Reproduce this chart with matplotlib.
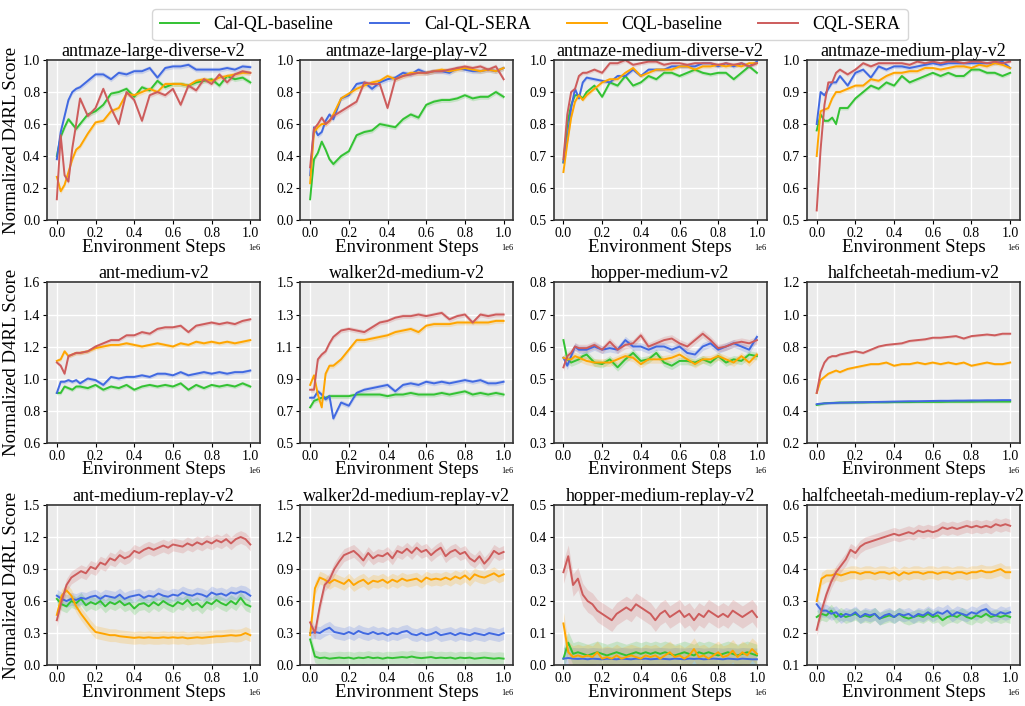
import matplotlib
matplotlib.use('Agg')
import matplotlib.pyplot as plt
import numpy as np

plt.rcParams['font.family'] = ['Liberation Serif', 'DejaVu Serif']

# x grids (fraction of 1e6 environment steps)
x_top = [0, .02, .04, .06, .08, .10, .12, .16, .20, .24, .28, .32, .36, .40, .44,
         .48, .52, .56, .60, .64, .68, .72, .76, .80, .84, .88, .92, .96, 1.0]
x_bot = [i * 0.025 for i in range(41)]

labels = ['Cal-QL-baseline', 'Cal-QL-SERA', 'CQL-baseline', 'CQL-SERA']
colors = ['#33c233', '#4169e1', '#ffa500', '#cd5c5c']

titles = ['antmaze-large-diverse-v2', 'antmaze-large-play-v2', 'antmaze-medium-diverse-v2', 'antmaze-medium-play-v2',
          'ant-medium-v2', 'walker2d-medium-v2', 'hopper-medium-v2', 'halfcheetah-medium-v2',
          'ant-medium-replay-v2', 'walker2d-medium-replay-v2', 'hopper-medium-replay-v2', 'halfcheetah-medium-replay-v2']

# ---- row 1 ----
lgd_green = [0.40, 0.52, 0.58, 0.63, 0.60, 0.57, 0.60, 0.66, 0.68, 0.72, 0.79, 0.80, 0.82, 0.77, 0.83, 0.81, 0.87, 0.83, 0.85, 0.85, 0.84, 0.86, 0.87, 0.88, 0.84, 0.90, 0.88, 0.89, 0.86]
lgd_blue = [0.38, 0.55, 0.65, 0.75, 0.80, 0.82, 0.83, 0.87, 0.91, 0.91, 0.88, 0.92, 0.91, 0.93, 0.93, 0.95, 0.89, 0.95, 0.96, 0.96, 0.97, 0.94, 0.94, 0.94, 0.94, 0.95, 0.94, 0.96, 0.955]
lgd_orange = [0.27, 0.18, 0.22, 0.30, 0.38, 0.44, 0.46, 0.54, 0.61, 0.62, 0.68, 0.70, 0.79, 0.78, 0.80, 0.82, 0.80, 0.85, 0.85, 0.85, 0.84, 0.87, 0.88, 0.87, 0.89, 0.90, 0.91, 0.92, 0.92]
lgd_red = [0.13, 0.53, 0.28, 0.24, 0.45, 0.60, 0.76, 0.65, 0.70, 0.82, 0.70, 0.60, 0.80, 0.75, 0.62, 0.78, 0.80, 0.78, 0.82, 0.72, 0.84, 0.81, 0.88, 0.85, 0.91, 0.86, 0.91, 0.93, 0.92]

lgp_green = [0.13, 0.38, 0.42, 0.49, 0.44, 0.38, 0.35, 0.40, 0.43, 0.53, 0.55, 0.56, 0.60, 0.59, 0.58, 0.63, 0.66, 0.64, 0.72, 0.74, 0.75, 0.75, 0.76, 0.78, 0.76, 0.77, 0.77, 0.80, 0.77]
lgp_blue = [0.28, 0.58, 0.53, 0.55, 0.62, 0.66, 0.63, 0.76, 0.78, 0.85, 0.86, 0.82, 0.86, 0.88, 0.89, 0.92, 0.91, 0.94, 0.92, 0.93, 0.93, 0.92, 0.95, 0.94, 0.93, 0.93, 0.94, 0.93, 0.95]
lgp_orange = [0.23, 0.55, 0.58, 0.60, 0.60, 0.62, 0.66, 0.76, 0.79, 0.82, 0.84, 0.86, 0.87, 0.90, 0.88, 0.90, 0.92, 0.92, 0.92, 0.93, 0.94, 0.93, 0.94, 0.95, 0.94, 0.93, 0.94, 0.93, 0.95]
lgp_red = [0.33, 0.57, 0.60, 0.64, 0.60, 0.62, 0.65, 0.68, 0.71, 0.74, 0.86, 0.85, 0.85, 0.70, 0.88, 0.90, 0.91, 0.92, 0.92, 0.93, 0.93, 0.94, 0.95, 0.96, 0.95, 0.96, 0.94, 0.96, 0.88]

md_green = [0.68, 0.80, 0.86, 0.89, 0.89, 0.88, 0.90, 0.92, 0.885, 0.93, 0.92, 0.95, 0.92, 0.93, 0.95, 0.94, 0.96, 0.96, 0.95, 0.96, 0.97, 0.96, 0.955, 0.96, 0.96, 0.94, 0.96, 0.98, 0.96]
md_blue = [0.68, 0.75, 0.85, 0.91, 0.88, 0.93, 0.945, 0.94, 0.935, 0.93, 0.95, 0.95, 0.97, 0.95, 0.97, 0.97, 0.97, 0.98, 0.98, 0.98, 0.98, 0.99, 0.99, 0.98, 0.99, 0.98, 0.99, 0.98, 0.995]
md_orange = [0.65, 0.74, 0.82, 0.87, 0.89, 0.875, 0.89, 0.91, 0.93, 0.94, 0.94, 0.96, 0.975, 0.95, 0.96, 0.97, 0.97, 0.97, 0.98, 0.98, 0.97, 0.98, 0.98, 0.985, 0.98, 0.985, 0.98, 0.99, 0.99]
md_red = [0.69, 0.83, 0.90, 0.91, 0.95, 0.96, 0.96, 0.97, 0.96, 0.99, 0.99, 1.00, 0.985, 0.99, 0.995, 0.995, 0.985, 0.99, 0.99, 0.985, 0.99, 0.99, 0.99, 0.985, 0.99, 0.985, 0.99, 0.98, 0.99]

mp_green = [0.78, 0.83, 0.81, 0.81, 0.82, 0.80, 0.85, 0.85, 0.88, 0.90, 0.92, 0.91, 0.93, 0.92, 0.95, 0.93, 0.94, 0.95, 0.96, 0.95, 0.96, 0.95, 0.95, 0.97, 0.97, 0.96, 0.96, 0.95, 0.96]
mp_blue = [0.80, 0.90, 0.89, 0.91, 0.93, 0.93, 0.95, 0.92, 0.96, 0.97, 0.945, 0.98, 0.97, 0.98, 0.98, 0.975, 0.98, 0.985, 0.99, 0.985, 0.99, 0.99, 0.99, 0.99, 0.99, 0.99, 0.99, 0.995, 0.975]
mp_orange = [0.70, 0.84, 0.845, 0.85, 0.88, 0.90, 0.90, 0.91, 0.92, 0.92, 0.94, 0.935, 0.95, 0.96, 0.96, 0.965, 0.965, 0.975, 0.975, 0.97, 0.975, 0.98, 0.98, 0.975, 0.985, 0.98, 0.99, 0.985, 0.975]
mp_red = [0.53, 0.72, 0.86, 0.93, 0.93, 0.96, 0.97, 0.955, 0.97, 0.99, 0.98, 0.99, 0.99, 0.99, 0.99, 0.985, 0.995, 0.99, 0.995, 0.99, 0.995, 0.995, 0.99, 0.995, 0.995, 0.99, 0.995, 0.99, 0.995]

# ---- row 2 ----
am_green = [0.91, 0.91, 0.95, 0.94, 0.93, 0.95, 0.95, 0.94, 0.96, 0.93, 0.95, 0.94, 0.96, 0.93, 0.95, 0.96, 0.95, 0.96, 0.95, 0.97, 0.93, 0.96, 0.94, 0.96, 0.95, 0.96, 0.95, 0.97, 0.95]
am_blue = [0.91, 0.98, 0.98, 0.99, 0.98, 0.99, 0.97, 1.00, 0.99, 0.96, 1.01, 1.00, 1.01, 1.01, 1.02, 1.01, 1.03, 1.03, 1.02, 1.04, 1.02, 1.03, 1.04, 1.03, 1.04, 1.03, 1.04, 1.04, 1.05]
am_orange = [1.11, 1.12, 1.17, 1.14, 1.15, 1.16, 1.16, 1.17, 1.19, 1.20, 1.21, 1.21, 1.22, 1.21, 1.20, 1.21, 1.22, 1.21, 1.20, 1.22, 1.21, 1.23, 1.22, 1.23, 1.22, 1.23, 1.22, 1.23, 1.24]
am_red = [1.10, 1.08, 1.03, 1.14, 1.15, 1.16, 1.16, 1.17, 1.20, 1.22, 1.24, 1.24, 1.27, 1.27, 1.29, 1.28, 1.31, 1.32, 1.32, 1.33, 1.29, 1.33, 1.34, 1.35, 1.34, 1.35, 1.34, 1.36, 1.37]

wm_green = [0.72, 0.76, 0.77, 0.78, 0.78, 0.79, 0.79, 0.79, 0.79, 0.80, 0.80, 0.80, 0.80, 0.79, 0.80, 0.80, 0.81, 0.80, 0.80, 0.80, 0.81, 0.80, 0.81, 0.82, 0.80, 0.81, 0.80, 0.81, 0.80]
wm_blue = [0.78, 0.78, 0.82, 0.80, 0.77, 0.79, 0.65, 0.75, 0.73, 0.81, 0.83, 0.84, 0.85, 0.86, 0.82, 0.86, 0.87, 0.86, 0.88, 0.87, 0.88, 0.87, 0.88, 0.89, 0.88, 0.89, 0.87, 0.87, 0.88]
wm_orange = [0.86, 0.92, 0.80, 0.72, 0.93, 0.98, 0.98, 1.02, 1.08, 1.14, 1.14, 1.15, 1.16, 1.17, 1.19, 1.20, 1.21, 1.19, 1.23, 1.24, 1.24, 1.24, 1.25, 1.25, 1.25, 1.25, 1.25, 1.26, 1.26]
wm_red = [0.83, 0.83, 1.02, 1.05, 1.07, 1.12, 1.16, 1.20, 1.21, 1.20, 1.19, 1.22, 1.25, 1.26, 1.28, 1.29, 1.29, 1.30, 1.29, 1.30, 1.31, 1.27, 1.29, 1.30, 1.25, 1.30, 1.29, 1.30, 1.30]

hm_green = [0.62, 0.56, 0.55, 0.555, 0.56, 0.57, 0.575, 0.55, 0.545, 0.56, 0.535, 0.56, 0.58, 0.555, 0.56, 0.58, 0.55, 0.54, 0.555, 0.555, 0.55, 0.56, 0.55, 0.57, 0.55, 0.56, 0.555, 0.575, 0.57]
hm_blue = [0.565, 0.54, 0.57, 0.60, 0.59, 0.59, 0.59, 0.60, 0.59, 0.595, 0.59, 0.62, 0.60, 0.60, 0.59, 0.60, 0.60, 0.59, 0.60, 0.58, 0.575, 0.60, 0.61, 0.59, 0.60, 0.61, 0.60, 0.59, 0.63]
hm_orange = [0.565, 0.56, 0.56, 0.57, 0.565, 0.56, 0.555, 0.55, 0.55, 0.55, 0.56, 0.57, 0.565, 0.545, 0.56, 0.56, 0.56, 0.565, 0.575, 0.56, 0.545, 0.56, 0.56, 0.57, 0.56, 0.55, 0.57, 0.55, 0.575]
hm_red = [0.535, 0.57, 0.58, 0.60, 0.595, 0.595, 0.595, 0.605, 0.59, 0.615, 0.59, 0.605, 0.61, 0.635, 0.60, 0.61, 0.62, 0.625, 0.61, 0.60, 0.62, 0.64, 0.62, 0.595, 0.60, 0.61, 0.615, 0.61, 0.62]

cm_green = [0.435, 0.44, 0.445, 0.447, 0.448, 0.449, 0.45, 0.45, 0.451, 0.451, 0.452, 0.452, 0.452, 0.453, 0.453, 0.453, 0.454, 0.454, 0.454, 0.454, 0.455, 0.455, 0.455, 0.455, 0.456, 0.456, 0.456, 0.456, 0.456]
cm_blue = [0.44, 0.443, 0.445, 0.446, 0.447, 0.448, 0.449, 0.45, 0.451, 0.452, 0.453, 0.454, 0.455, 0.456, 0.457, 0.458, 0.458, 0.459, 0.46, 0.461, 0.461, 0.462, 0.462, 0.463, 0.463, 0.464, 0.464, 0.465, 0.465]
cm_orange = [0.51, 0.59, 0.61, 0.63, 0.64, 0.65, 0.64, 0.66, 0.67, 0.68, 0.69, 0.69, 0.70, 0.68, 0.69, 0.69, 0.70, 0.69, 0.70, 0.69, 0.70, 0.69, 0.70, 0.68, 0.69, 0.70, 0.69, 0.69, 0.70]
cm_red = [0.51, 0.64, 0.70, 0.73, 0.74, 0.74, 0.75, 0.76, 0.77, 0.76, 0.78, 0.80, 0.81, 0.815, 0.82, 0.835, 0.84, 0.845, 0.855, 0.855, 0.86, 0.865, 0.85, 0.865, 0.87, 0.875, 0.87, 0.88, 0.88]

# ---- row 3 ----
amr_green = [0.62, 0.57, 0.55, 0.60, 0.58, 0.62, 0.56, 0.59, 0.57, 0.60, 0.55, 0.59, 0.57, 0.60, 0.56, 0.58, 0.53, 0.57, 0.58, 0.55, 0.59, 0.56, 0.60, 0.57, 0.55, 0.59, 0.57, 0.61, 0.56, 0.58, 0.54, 0.59, 0.57, 0.61, 0.58, 0.56, 0.60, 0.57, 0.63, 0.57, 0.55]
amr_blue = [0.65, 0.62, 0.60, 0.62, 0.61, 0.63, 0.62, 0.64, 0.65, 0.62, 0.65, 0.64, 0.63, 0.66, 0.62, 0.64, 0.65, 0.66, 0.63, 0.65, 0.64, 0.67, 0.65, 0.64, 0.66, 0.65, 0.68, 0.66, 0.65, 0.67, 0.66, 0.64, 0.68, 0.66, 0.67, 0.65, 0.68, 0.67, 0.69, 0.68, 0.65]
amr_orange = [0.47, 0.65, 0.70, 0.65, 0.55, 0.48, 0.42, 0.36, 0.31, 0.30, 0.29, 0.28, 0.28, 0.27, 0.265, 0.26, 0.255, 0.26, 0.255, 0.26, 0.255, 0.255, 0.26, 0.255, 0.26, 0.255, 0.26, 0.25, 0.255, 0.26, 0.255, 0.26, 0.265, 0.27, 0.27, 0.275, 0.28, 0.275, 0.28, 0.30, 0.28]
amr_red = [0.42, 0.60, 0.75, 0.82, 0.85, 0.88, 0.86, 0.92, 0.90, 0.96, 0.94, 1.00, 0.98, 1.03, 1.00, 1.02, 1.07, 1.05, 1.08, 1.10, 1.08, 1.10, 1.12, 1.10, 1.13, 1.12, 1.11, 1.14, 1.12, 1.15, 1.13, 1.16, 1.14, 1.17, 1.15, 1.18, 1.14, 1.18, 1.20, 1.18, 1.13]

wmr_green = [0.24, 0.08, 0.065, 0.07, 0.06, 0.065, 0.07, 0.065, 0.07, 0.06, 0.07, 0.065, 0.075, 0.065, 0.07, 0.06, 0.07, 0.065, 0.07, 0.075, 0.07, 0.08, 0.07, 0.065, 0.07, 0.075, 0.065, 0.07, 0.065, 0.07, 0.06, 0.07, 0.065, 0.07, 0.06, 0.065, 0.07, 0.065, 0.06, 0.065, 0.06]
wmr_blue = [0.30, 0.31, 0.30, 0.33, 0.35, 0.31, 0.30, 0.29, 0.31, 0.29, 0.32, 0.30, 0.29, 0.31, 0.29, 0.30, 0.28, 0.30, 0.29, 0.31, 0.32, 0.29, 0.28, 0.30, 0.28, 0.29, 0.31, 0.28, 0.29, 0.30, 0.28, 0.30, 0.29, 0.28, 0.30, 0.29, 0.28, 0.30, 0.29, 0.28, 0.30]
wmr_orange = [0.28, 0.72, 0.82, 0.80, 0.77, 0.80, 0.78, 0.76, 0.80, 0.75, 0.78, 0.80, 0.76, 0.79, 0.78, 0.80, 0.77, 0.80, 0.78, 0.81, 0.79, 0.80, 0.81, 0.78, 0.82, 0.80, 0.81, 0.80, 0.82, 0.80, 0.83, 0.81, 0.84, 0.80, 0.85, 0.83, 0.82, 0.84, 0.86, 0.83, 0.85]
wmr_red = [0.40, 0.30, 0.55, 0.75, 0.80, 0.90, 0.97, 1.03, 1.05, 1.07, 1.03, 0.98, 1.05, 1.00, 1.03, 1.02, 1.05, 1.00, 1.07, 1.05, 1.09, 1.05, 1.10, 1.06, 1.08, 1.03, 1.07, 1.10, 1.02, 1.06, 1.08, 1.04, 1.06, 1.00, 0.97, 1.02, 0.95, 1.00, 1.07, 1.04, 1.06]

hmr_green = [0.02, 0.07, 0.035, 0.04, 0.035, 0.03, 0.035, 0.04, 0.035, 0.03, 0.035, 0.04, 0.035, 0.03, 0.035, 0.04, 0.035, 0.04, 0.035, 0.04, 0.035, 0.04, 0.035, 0.03, 0.035, 0.04, 0.035, 0.03, 0.04, 0.035, 0.04, 0.035, 0.03, 0.035, 0.04, 0.035, 0.03, 0.035, 0.04, 0.035, 0.03]
hmr_blue = [0.02, 0.022, 0.02, 0.019, 0.02, 0.018, 0.02, 0.019, 0.018, 0.02, 0.019, 0.018, 0.02, 0.019, 0.018, 0.02, 0.019, 0.02, 0.018, 0.019, 0.02, 0.019, 0.018, 0.02, 0.019, 0.018, 0.02, 0.019, 0.02, 0.018, 0.019, 0.02, 0.019, 0.018, 0.02, 0.019, 0.018, 0.02, 0.019, 0.018, 0.018]
hmr_orange = [0.13, 0.04, 0.025, 0.03, 0.025, 0.03, 0.025, 0.04, 0.02, 0.025, 0.02, 0.03, 0.02, 0.025, 0.03, 0.025, 0.02, 0.03, 0.025, 0.03, 0.02, 0.03, 0.04, 0.025, 0.03, 0.02, 0.03, 0.05, 0.025, 0.03, 0.02, 0.03, 0.04, 0.025, 0.03, 0.045, 0.025, 0.04, 0.03, 0.05, 0.035]
hmr_red = [0.29, 0.34, 0.25, 0.27, 0.22, 0.20, 0.19, 0.17, 0.16, 0.15, 0.14, 0.16, 0.17, 0.18, 0.17, 0.19, 0.18, 0.17, 0.16, 0.14, 0.16, 0.17, 0.15, 0.16, 0.17, 0.15, 0.16, 0.14, 0.16, 0.15, 0.17, 0.16, 0.15, 0.16, 0.15, 0.17, 0.16, 0.15, 0.16, 0.17, 0.15]

cmr_green = [0.25, 0.26, 0.255, 0.27, 0.25, 0.26, 0.25, 0.255, 0.26, 0.25, 0.255, 0.25, 0.26, 0.245, 0.25, 0.255, 0.25, 0.26, 0.25, 0.245, 0.25, 0.255, 0.25, 0.26, 0.25, 0.255, 0.24, 0.25, 0.255, 0.25, 0.26, 0.25, 0.245, 0.255, 0.25, 0.26, 0.25, 0.255, 0.25, 0.255, 0.25]
cmr_blue = [0.29, 0.27, 0.27, 0.26, 0.265, 0.25, 0.26, 0.255, 0.265, 0.25, 0.26, 0.255, 0.26, 0.245, 0.255, 0.26, 0.25, 0.26, 0.255, 0.26, 0.25, 0.26, 0.255, 0.265, 0.255, 0.265, 0.26, 0.27, 0.255, 0.265, 0.26, 0.255, 0.265, 0.26, 0.27, 0.275, 0.26, 0.255, 0.265, 0.26, 0.265]
cmr_orange = [0.30, 0.37, 0.38, 0.38, 0.385, 0.38, 0.385, 0.39, 0.39, 0.385, 0.39, 0.39, 0.385, 0.39, 0.39, 0.385, 0.39, 0.38, 0.39, 0.385, 0.39, 0.39, 0.385, 0.39, 0.39, 0.385, 0.39, 0.39, 0.385, 0.39, 0.39, 0.385, 0.39, 0.39, 0.395, 0.39, 0.39, 0.395, 0.40, 0.39, 0.39]
cmr_red = [0.21, 0.27, 0.32, 0.36, 0.39, 0.41, 0.43, 0.46, 0.45, 0.47, 0.48, 0.485, 0.49, 0.495, 0.50, 0.505, 0.51, 0.505, 0.51, 0.515, 0.51, 0.52, 0.515, 0.52, 0.515, 0.52, 0.53, 0.525, 0.53, 0.525, 0.53, 0.535, 0.53, 0.535, 0.53, 0.535, 0.53, 0.54, 0.535, 0.54, 0.535]

series = [
    (x_top, [lgd_green, lgd_blue, lgd_orange, lgd_red]),
    (x_top, [lgp_green, lgp_blue, lgp_orange, lgp_red]),
    (x_top, [md_green, md_blue, md_orange, md_red]),
    (x_top, [mp_green, mp_blue, mp_orange, mp_red]),
    (x_top, [am_green, am_blue, am_orange, am_red]),
    (x_top, [wm_green, wm_blue, wm_orange, wm_red]),
    (x_top, [hm_green, hm_blue, hm_orange, hm_red]),
    (x_top, [cm_green, cm_blue, cm_orange, cm_red]),
    (x_bot, [amr_green, amr_blue, amr_orange, amr_red]),
    (x_bot, [wmr_green, wmr_blue, wmr_orange, wmr_red]),
    (x_bot, [hmr_green, hmr_blue, hmr_orange, hmr_red]),
    (x_bot, [cmr_green, cmr_blue, cmr_orange, cmr_red]),
]

yticks = [np.arange(0, 1.01, 0.2), np.arange(0, 1.01, 0.2), np.arange(0.5, 1.01, 0.1), np.arange(0.5, 1.01, 0.1),
          np.arange(0.6, 1.61, 0.2), np.arange(0.5, 1.51, 0.2), np.arange(0.3, 0.81, 0.1), np.arange(0.2, 1.21, 0.2),
          np.arange(0, 1.51, 0.3), np.arange(0, 1.51, 0.3), np.arange(0, 0.51, 0.1), np.arange(0.1, 0.61, 0.1)]
# half-width of the shaded spread around each mean curve
spread = [0.015, 0.015, 0.006, 0.006, 0.012, 0.015, 0.012, 0.008, 0.06, 0.06, 0.035, 0.02]

fig, axes = plt.subplots(3, 4, figsize=(10.25, 7.06), dpi=100)
fig.subplots_adjust(left=0.046, right=0.995, top=0.915, bottom=0.058, wspace=0.19, hspace=0.39)

for i, ax in enumerate(axes.flat):
    xs, ys = series[i]
    xs = np.array(xs) * 1e6
    ax.set_facecolor('#ebebeb')
    for y, c, lab in zip(ys, colors, labels):
        y = np.array(y)
        ax.fill_between(xs, y - spread[i], y + spread[i], color=c, alpha=0.2, lw=0)
        ax.plot(xs, y, color=c, lw=1.4, label=lab)
    ax.set_title(titles[i], fontsize=13, pad=3)
    ax.set_xlabel('Environment Steps', fontsize=13.5, labelpad=-1)
    if i % 4 == 0:
        ax.set_ylabel('Normalized D4RL Score', fontsize=13.5, labelpad=2)
    t = yticks[i]
    ax.set_yticks(t)
    ax.set_yticklabels(['%.1f' % v for v in t])
    ax.set_ylim(t[0], t[-1])
    ax.set_xticks(np.arange(0, 1.01e6, 2e5))
    ax.grid(True, color='white', lw=1.0)
    ax.set_axisbelow(True)
    ax.tick_params(labelsize=10, length=3, width=0.8, pad=2)
    ax.xaxis.get_offset_text().set_fontsize(6)
    for s in ax.spines.values():
        s.set_color('#333333')
        s.set_linewidth(1.2)

handles, labs = axes[0, 0].get_legend_handles_labels()
fig.legend(handles, labs, loc='upper center', bbox_to_anchor=(0.517, 1.0), ncol=4, fontsize=13,
           handlelength=2.2, columnspacing=2.0, handletextpad=0.8, frameon=True, edgecolor='#cccccc')

plt.savefig('out.png', dpi=100)
